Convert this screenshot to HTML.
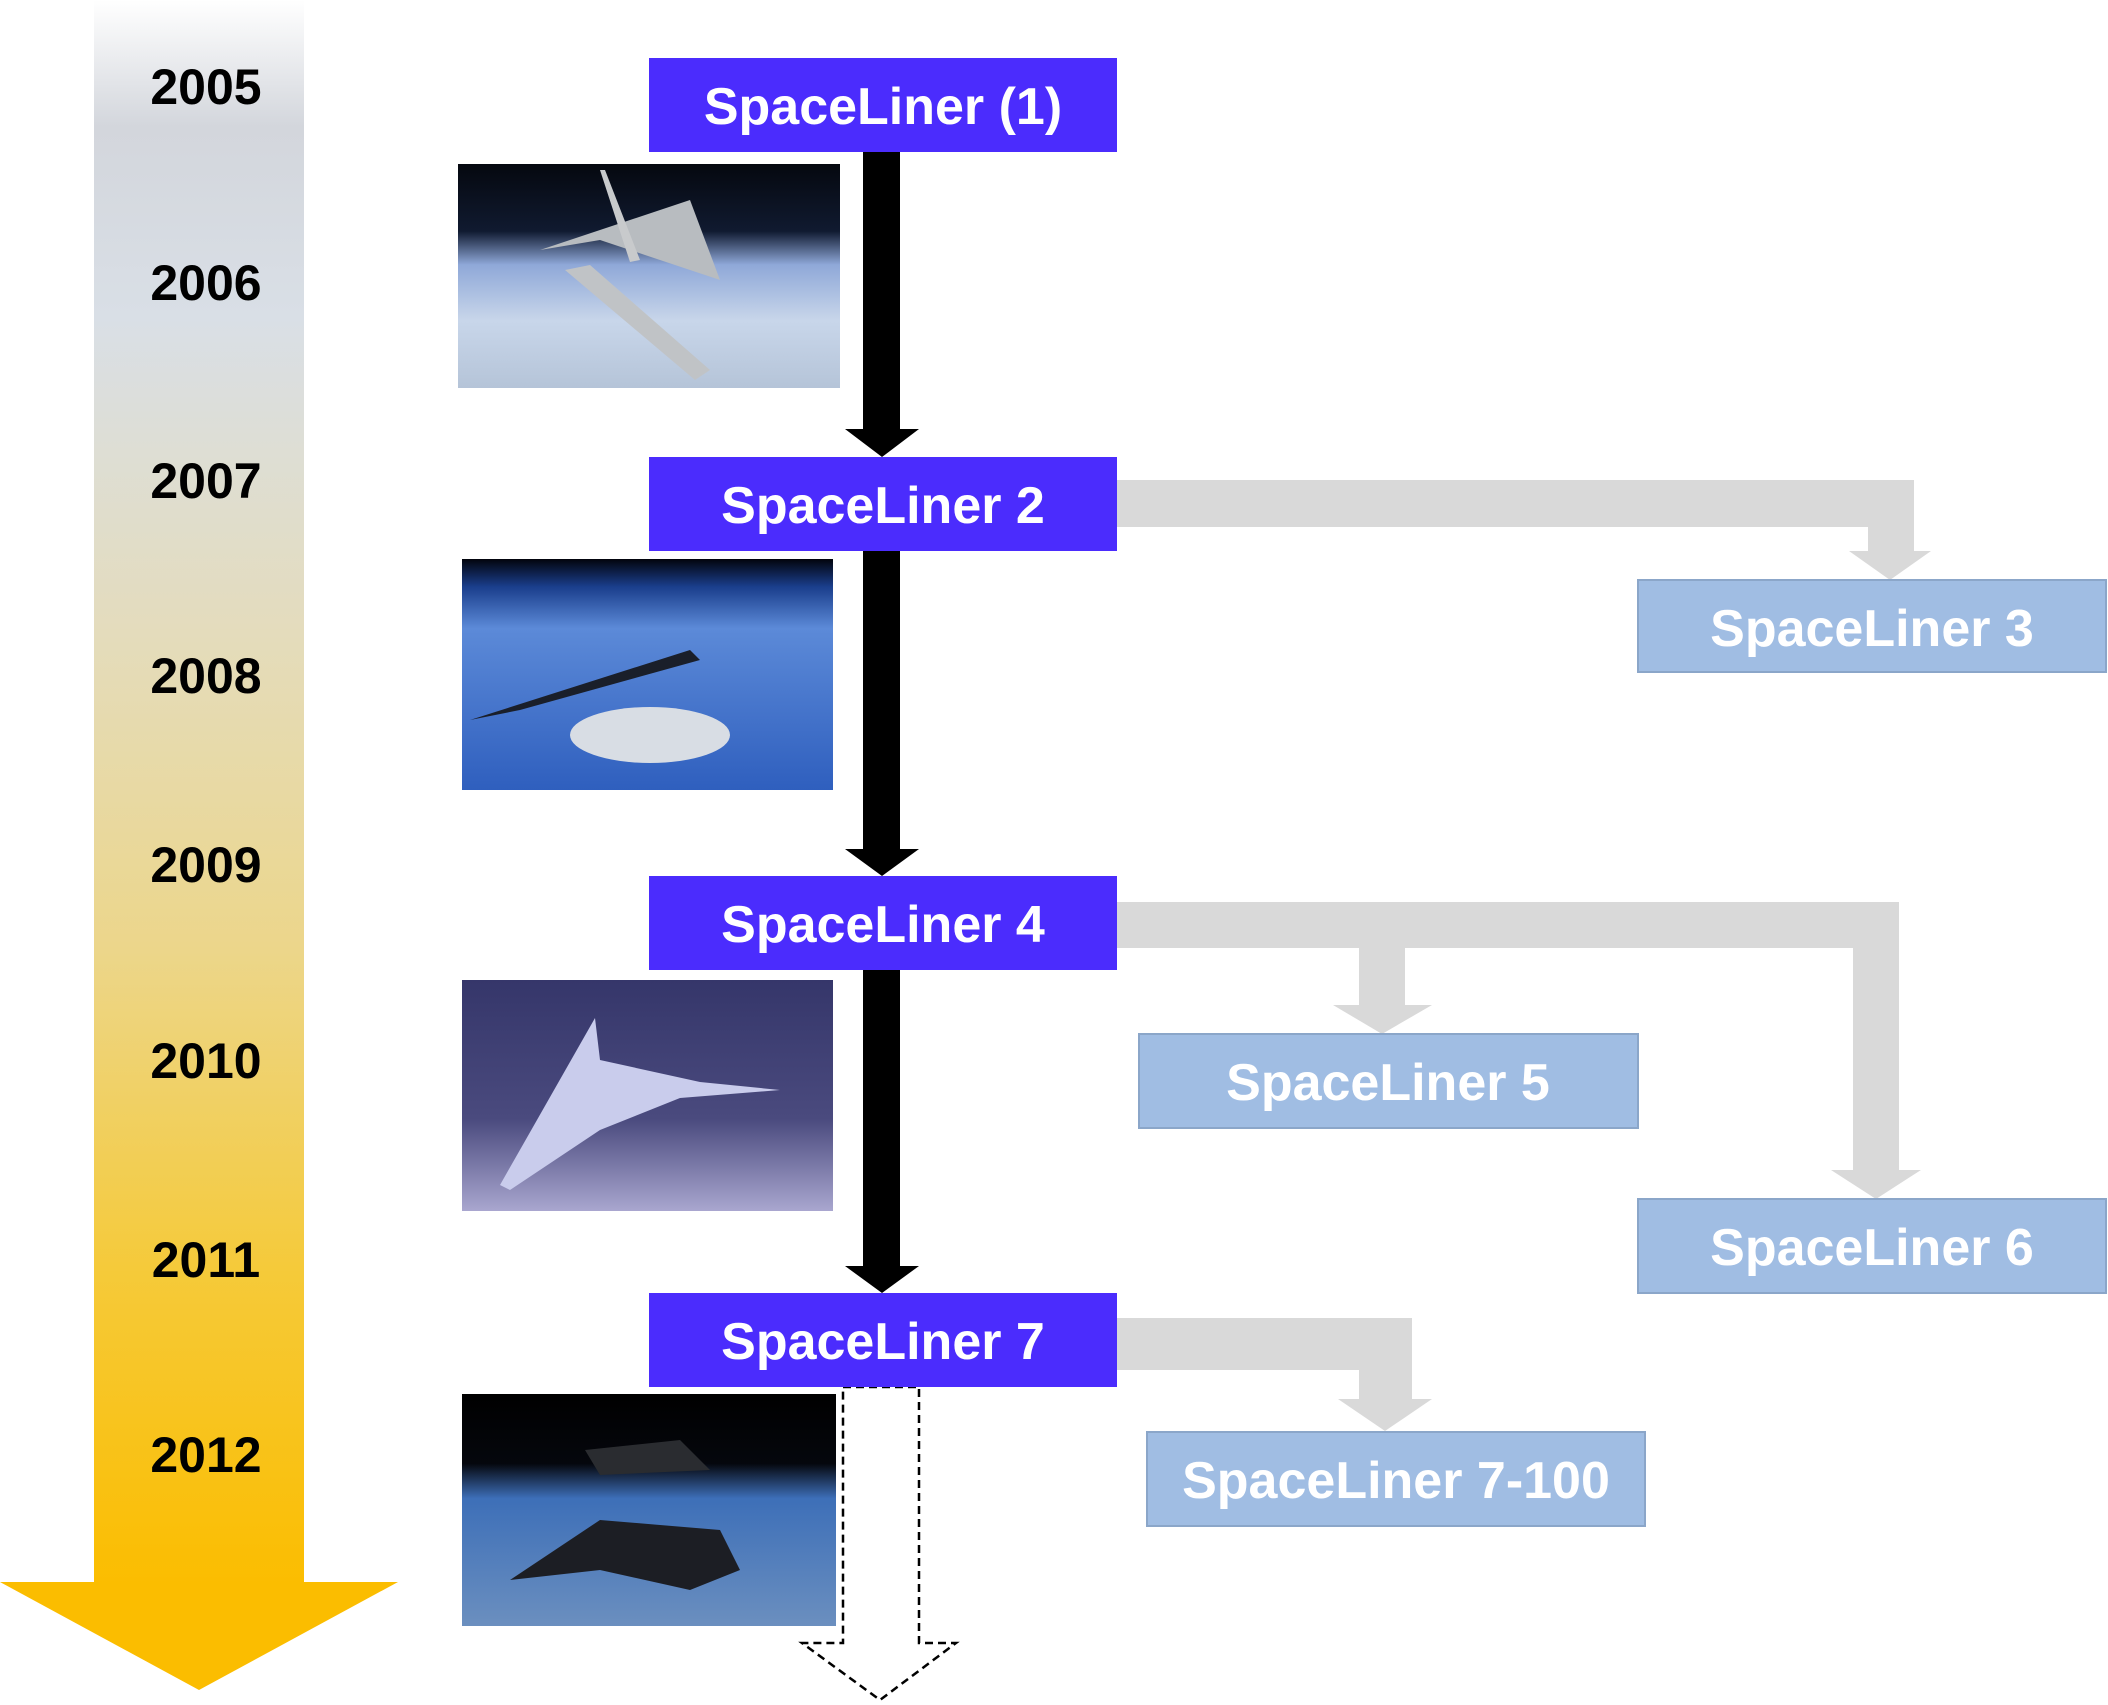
<!DOCTYPE html>
<html><head><meta charset="utf-8"><style>
html,body{margin:0;padding:0;background:#fff}
svg{display:block}
text{font-family:"Liberation Sans",Arial,sans-serif;font-weight:bold}
</style></head><body>
<svg width="2108" height="1705" viewBox="0 0 2108 1705" xmlns="http://www.w3.org/2000/svg">
<defs>
<linearGradient id="tl" x1="0" y1="0" x2="0" y2="1">
<stop offset="0" stop-color="#ffffff"/>
<stop offset="0.08" stop-color="#d3d6dc"/>
<stop offset="0.2" stop-color="#d9dfe6"/>
<stop offset="0.4" stop-color="#e4dcbc"/>
<stop offset="0.6" stop-color="#ecd68a"/>
<stop offset="0.8" stop-color="#f5ca3a"/>
<stop offset="1" stop-color="#fbbd00"/>
</linearGradient>
<linearGradient id="i1" x1="0" y1="0" x2="0" y2="1">
<stop offset="0" stop-color="#05080f"/><stop offset="0.3" stop-color="#101a30"/>
<stop offset="0.45" stop-color="#8fa8d8"/><stop offset="0.7" stop-color="#c8d6ea"/><stop offset="1" stop-color="#b5c4d8"/>
</linearGradient>
<linearGradient id="i2" x1="0" y1="0" x2="0" y2="1">
<stop offset="0" stop-color="#02040c"/><stop offset="0.12" stop-color="#1a3e8c"/>
<stop offset="0.3" stop-color="#5c8ad8"/><stop offset="1" stop-color="#2f5fbe"/>
</linearGradient>
<linearGradient id="i3" x1="0" y1="0" x2="0" y2="1">
<stop offset="0" stop-color="#35366a"/><stop offset="0.6" stop-color="#4a4a7e"/><stop offset="1" stop-color="#a9a6cf"/>
</linearGradient>
<linearGradient id="i4" x1="0" y1="0" x2="0" y2="1">
<stop offset="0" stop-color="#000"/><stop offset="0.3" stop-color="#05070d"/>
<stop offset="0.45" stop-color="#3d6fb8"/><stop offset="1" stop-color="#6b8fbf"/>
</linearGradient>
</defs>

<!-- timeline -->
<rect x="94" y="0" width="210" height="1585" fill="url(#tl)"/>
<polygon points="0,1582 398,1582 199,1690" fill="#fbbd00"/>
<g font-size="50" text-anchor="middle" fill="#000">
<text x="206" y="104">2005</text>
<text x="206" y="300">2006</text>
<text x="206" y="498">2007</text>
<text x="206" y="693">2008</text>
<text x="206" y="882">2009</text>
<text x="206" y="1078">2010</text>
<text x="206" y="1277">2011</text>
<text x="206" y="1472">2012</text>
</g>

<!-- gray connectors -->
<g fill="#d9d9d9">
<polygon points="1117,480 1914,480 1914,551 1931,551 1890,580 1849,551 1868,551 1868,527 1117,527"/>
<polygon points="1117,902 1899,902 1899,1170 1921,1170 1876,1199 1831,1170 1853,1170 1853,948 1405,948 1405,1005 1432,1005 1382,1034 1333,1005 1359,1005 1359,948 1117,948"/>
<polygon points="1117,1318 1412,1318 1412,1399 1432,1399 1385,1431 1338,1399 1359,1399 1359,1370 1117,1370"/>
</g>

<!-- black arrows -->
<g fill="#000">
<polygon points="863,152 900,152 900,429 919,429 882,457 845,429 863,429"/>
<polygon points="863,551 900,551 900,849 919,849 882,876 845,849 863,849"/>
<polygon points="863,970 900,970 900,1266 919,1266 882,1293 845,1266 863,1266"/>
</g>
<!-- dashed arrow -->
<polygon points="843,1387 919,1387 919,1643 956,1643 880,1700 802,1643 843,1643" fill="#fff" stroke="#000" stroke-width="2.5" stroke-dasharray="8,5"/>

<!-- images -->
<rect x="458" y="164" width="382" height="224" fill="url(#i1)"/>
<polygon points="540,250 690,200 720,280 600,240" fill="#b8bcc0"/>
<polygon points="565,270 590,265 710,370 695,380" fill="#c0c3c6"/>
<polygon points="600,170 605,170 640,260 630,262" fill="#c8cacc"/>
<rect x="462" y="559" width="371" height="231" fill="url(#i2)"/>
<polygon points="470,720 690,650 700,660 520,710" fill="#1a1f2a"/>
<ellipse cx="650" cy="735" rx="80" ry="28" fill="#d8dde4"/>
<rect x="462" y="980" width="371" height="231" fill="url(#i3)"/>
<polygon points="500,1185 595,1018 600,1060 700,1082 780,1090 680,1098 600,1130 510,1190" fill="#c9ccec"/>
<rect x="462" y="1394" width="374" height="232" fill="url(#i4)"/>
<polygon points="585,1450 680,1440 710,1470 600,1475" fill="#2a2c30"/>
<polygon points="510,1580 600,1520 720,1530 740,1570 690,1590 600,1570" fill="#1c1e24"/>

<!-- blue boxes -->
<g fill="#4b2cfd">
<rect x="649" y="58" width="468" height="94"/>
<rect x="649" y="457" width="468" height="94"/>
<rect x="649" y="876" width="468" height="94"/>
<rect x="649" y="1293" width="468" height="94"/>
</g>
<g font-size="52" text-anchor="middle" fill="#fff">
<text x="883" y="124">SpaceLiner (1)</text>
<text x="883" y="523">SpaceLiner 2</text>
<text x="883" y="942">SpaceLiner 4</text>
<text x="883" y="1359">SpaceLiner 7</text>
</g>

<!-- light boxes -->
<g fill="#a0bde3" stroke="#8ba6c9" stroke-width="2">
<rect x="1638" y="580" width="468" height="92"/>
<rect x="1139" y="1034" width="499" height="94"/>
<rect x="1638" y="1199" width="468" height="94"/>
<rect x="1147" y="1432" width="498" height="94"/>
</g>
<g font-size="52" text-anchor="middle" fill="#fff">
<text x="1872" y="646">SpaceLiner 3</text>
<text x="1388" y="1100">SpaceLiner 5</text>
<text x="1872" y="1265">SpaceLiner 6</text>
<text x="1396" y="1498">SpaceLiner 7-100</text>
</g>
</svg>
</body></html>
